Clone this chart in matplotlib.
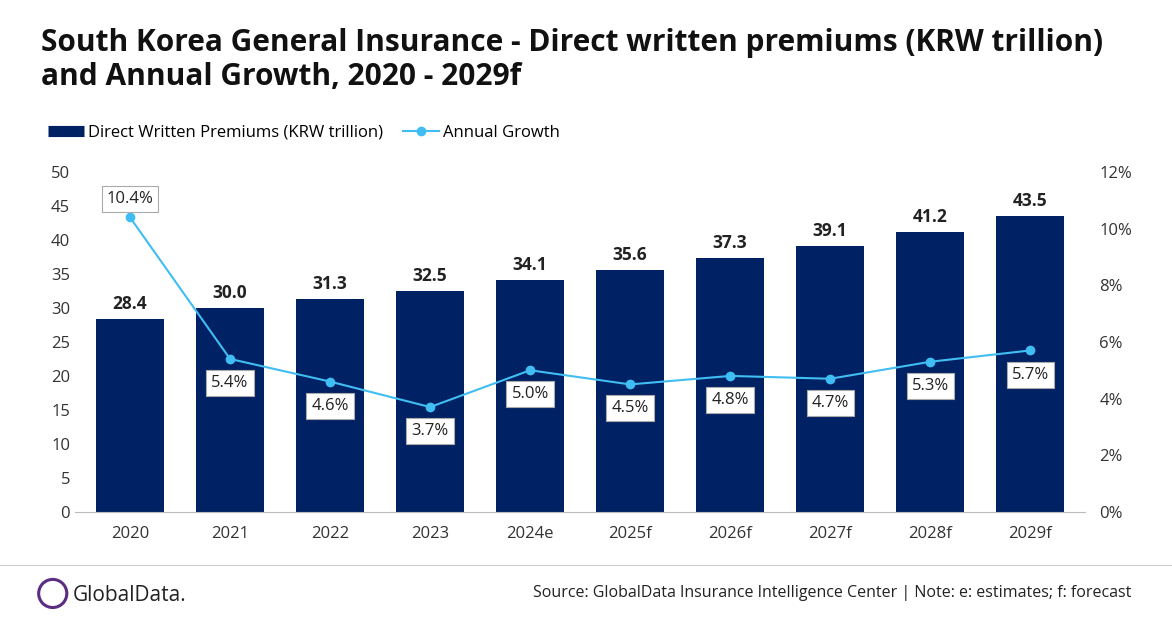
import matplotlib.pyplot as plt
from matplotlib.lines import Line2D
from matplotlib.patches import Ellipse

plt.rcParams['font.family'] = ['Open Sans', 'DejaVu Sans']

years = ["2020", "2021", "2022", "2023", "2024e", "2025f", "2026f", "2027f", "2028f", "2029f"]
premiums = [28.4, 30.0, 31.3, 32.5, 34.1, 35.6, 37.3, 39.1, 41.2, 43.5]
growth = [10.4, 5.4, 4.6, 3.7, 5.0, 4.5, 4.8, 4.7, 5.3, 5.7]

NAVY = "#002163"
CYAN = "#40BDF2"

fig = plt.figure(figsize=(11.72, 6.28), dpi=100)
ax = fig.add_axes([0.064, 0.185, 0.862, 0.541])
ax2 = ax.twinx()

x = range(len(years))
ax.bar(x, premiums, width=0.68, color=NAVY, zorder=2)
for i, v in enumerate(premiums):
    ax.text(i, v + 0.9, f"{v:.1f}", ha="center", va="bottom", fontsize=12.5, fontweight="bold", color="#222")

ax.set_ylim(0, 50)
ax.set_yticks(range(0, 51, 5))
ax.set_xlim(-0.55, len(years) - 0.45)
ax.set_xticks(list(x))
ax.set_xticklabels(years)
ax.tick_params(axis="both", length=0, labelsize=12, colors="#333")
ax.tick_params(axis="x", pad=10)
for s in ax.spines.values():
    s.set_visible(False)
ax.spines["bottom"].set_visible(True)
ax.spines["bottom"].set_color("#bbb")

ax2.plot(list(x), growth, color=CYAN, marker="o", markersize=6, linewidth=1.5, zorder=3)
ax2.set_ylim(0, 12)
ax2.set_yticks(range(0, 13, 2))
ax2.set_yticklabels([f"{t}%" for t in range(0, 13, 2)])
ax2.tick_params(axis="y", length=0, labelsize=12, colors="#333", pad=10)
for s in ax2.spines.values():
    s.set_visible(False)
for i, g in enumerate(growth):
    off = 0.65 if i == 0 else -0.85
    ax2.text(i, g + off, f"{g:.1f}%", ha="center", va="center", fontsize=12, color="#222",
             bbox=dict(boxstyle="square,pad=0.3", fc="white", ec="#aaa", lw=0.8), zorder=4)

fig.text(0.035, 0.955, "South Korea General Insurance - Direct written premiums (KRW trillion)\nand Annual Growth, 2020 - 2029f",
         fontsize=21.5, fontweight="bold", va="top", ha="left", color="#111", linespacing=1.15)

handles = [Line2D([], [], color=NAVY, lw=8, solid_capstyle="butt"),
           Line2D([], [], color=CYAN, marker="o", markersize=6, lw=1.5)]
fig.legend(handles, ["Direct Written Premiums (KRW trillion)", "Annual Growth"],
           loc="upper left", bbox_to_anchor=(0.028, 0.825), ncol=2, frameon=False,
           fontsize=12, handlelength=2.2, handletextpad=0.2, columnspacing=1.2)

fig.add_artist(Line2D([0.0, 1.0], [0.1, 0.1], color="#ccc", lw=0.8))
fig.text(0.965, 0.055, "Source: GlobalData Insurance Intelligence Center | Note: e: estimates; f: forecast",
         ha="right", va="center", fontsize=11.5, color="#222")
fig.add_artist(Ellipse((0.045, 0.055), 0.024, 0.024 * 1172 / 628, transform=fig.transFigure,
                       fill=False, ec="#5a2d82", lw=2.2))
fig.text(0.062, 0.052, "GlobalData.", ha="left", va="center", fontsize=15, color="#222")

fig.savefig("out.png", dpi=100)
